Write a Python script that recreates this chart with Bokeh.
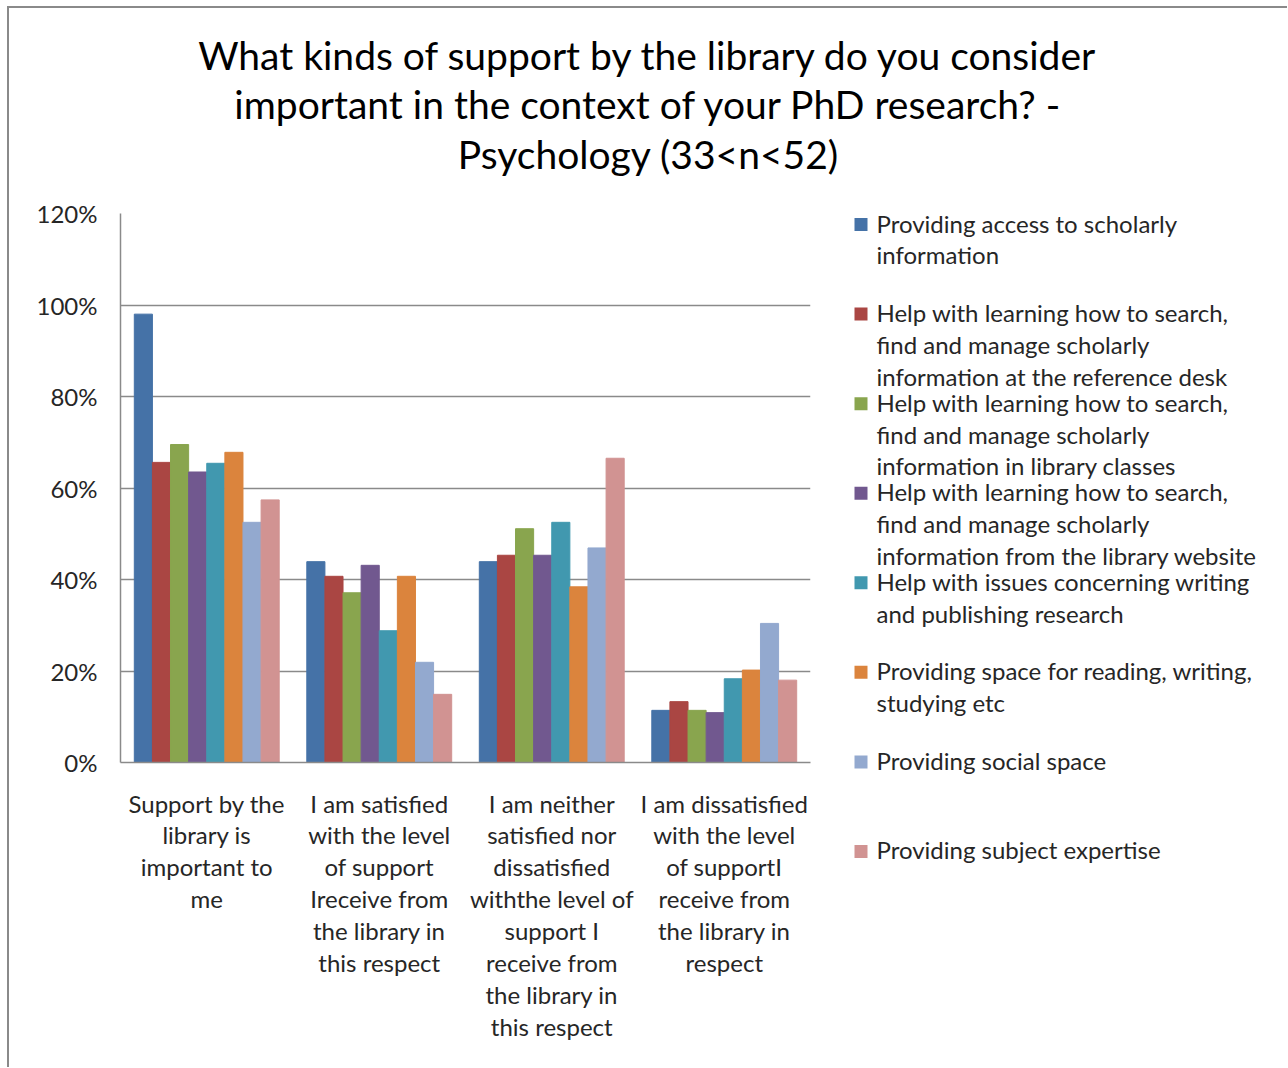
from bokeh.plotting import figure
from bokeh.models import (FactorRange, Range1d, FixedTicker, PrintfTickFormatter,
                          ColumnDataSource)
from bokeh.layouts import column, row
from bokeh.transform import dodge
from bokeh.core.properties import value
from bokeh.embed import file_html
from bokeh.resources import INLINE

# ---------------- data ----------------
categories = [
    "Support by the\nlibrary is\nimportant to\nme",
    "I am satisfied\nwith the level\nof support\nIreceive from\nthe library in\nthis respect",
    "I am neither\nsatisfied nor\ndissatisfied\nwiththe level of\nsupport I\nreceive from\nthe library in\nthis respect",
    "I am dissatisfied\nwith the level\nof supportI\nreceive from\nthe library in\nrespect",
]

series_labels = [
    "Providing access to scholarly\ninformation",
    "Help with learning how to search,\nfind and manage scholarly\ninformation at the reference  desk",
    "Help with learning how to search,\nfind and manage scholarly\ninformation in library classes",
    "Help with learning how to search,\nfind and manage scholarly\ninformation from the library website",
    "Help with issues concerning writing\nand publishing research",
    "Providing space for  reading, writing,\nstudying etc",
    "Providing social space",
    "Providing subject expertise",
]

access_info = [98.0, 43.9, 43.9, 11.4]
reference_desk = [65.6, 40.7, 45.3, 13.3]
library_classes = [69.5, 37.1, 51.1, 11.4]
library_website = [63.5, 43.1, 45.3, 10.9]
writing_publishing = [65.4, 28.8, 52.5, 18.3]
reading_space = [67.8, 40.7, 38.4, 20.2]
social_space = [52.5, 21.9, 46.9, 30.4]
subject_expertise = [57.4, 14.9, 66.5, 18.0]

series_values = [access_info, reference_desk, library_classes, library_website,
                 writing_publishing, reading_space, social_space, subject_expertise]

colors = ["#4572A7", "#AA4643", "#89A54E", "#71588F",
          "#4198AF", "#DB843D", "#93A9CF", "#D19392"]

y_ticks = [0, 20, 40, 60, 80, 100, 120]

title_text = ("What kinds of support by the library do you consider\n"
              "important in the context of your PhD research? -\n"
              "Psychology (33<n<52)")

FONT = "Lato"
TEXT_COLOR = "#262626"

W = 1278
HEAD_H = 185
BODY_H = 874
CHART_W = 841
LEG_W = W - CHART_W


def blank(width, height):
    f = figure(width=width, height=height, x_range=Range1d(0, width), y_range=Range1d(0, height),
               output_backend="svg", toolbar_location=None,
               x_axis_location=None, y_axis_location=None,
               min_border=0, min_border_left=0, min_border_right=0,
               min_border_top=0, min_border_bottom=0)
    f.frame_align = False
    f.grid.visible = False
    f.outline_line_color = None
    f.background_fill_color = "white"
    f.border_fill_color = "white"
    return f


# ---------------- title ----------------
head = blank(W, HEAD_H)
head.text(x=[639], y=[HEAD_H - 96], text=[title_text],
          text_font=value(FONT), text_font_size="39px", text_color="black",
          text_align="center", text_baseline="middle", text_line_height=1.08)

# ---------------- chart ----------------
p = figure(
    width=CHART_W, height=BODY_H,
    x_range=FactorRange(*categories, range_padding=0),
    y_range=Range1d(0, 120),
    output_backend="svg", toolbar_location=None,
    min_border_left=111, min_border_right=40,
    min_border_top=20, min_border_bottom=305,
)
p.frame_align = False
p.outline_line_color = None
p.background_fill_color = "white"
p.border_fill_color = "white"

src = {"cat": categories}
for i, vals in enumerate(series_values):
    src[f"s{i}"] = vals
source = ColumnDataSource(src)

bar_w = 0.105
for i in range(len(series_values)):
    p.vbar(x=dodge("cat", (i - 3.5) * bar_w, range=p.x_range), top=f"s{i}",
           width=bar_w, bottom=0, source=source,
           fill_color=colors[i], line_color=colors[i], line_width=1)

p.yaxis.ticker = FixedTicker(ticks=y_ticks)
p.yaxis.formatter = PrintfTickFormatter(format="%d%%")
p.yaxis.major_tick_line_color = None
p.yaxis.minor_tick_line_color = None
p.yaxis.major_tick_out = 0
p.yaxis.major_label_standoff = 23
p.yaxis.axis_line_color = "#8a8a8a"
p.yaxis.axis_line_width = 1.5
p.yaxis.major_label_text_font = FONT
p.yaxis.major_label_text_font_size = "24px"
p.yaxis.major_label_text_color = TEXT_COLOR

p.xaxis.major_tick_line_color = None
p.xaxis.major_tick_out = 0
p.xaxis.major_label_standoff = 26
p.xaxis.axis_line_color = "#8a8a8a"
p.xaxis.axis_line_width = 1.5
p.xaxis.major_label_text_font = FONT
p.xaxis.major_label_text_font_size = "24px"
p.xaxis.major_label_text_line_height = 1.1
p.xaxis.major_label_text_color = TEXT_COLOR
p.xaxis.major_label_orientation = "horizontal"

p.xgrid.grid_line_color = None
p.ygrid.grid_line_color = "#8a8a8a"
p.ygrid.grid_line_width = 1.5

# ---------------- legend ----------------
leg = blank(LEG_W, BODY_H)
step = 89.57
first = 31
ys_center = [BODY_H - (first + step * i) for i in range(len(series_labels))]
leg.scatter(x=[10.5] * len(series_labels), y=ys_center, marker="square", size=13,
            fill_color=colors, line_color=None)
leg.text(x=[26] * len(series_labels), y=[yc + 16 for yc in ys_center], text=series_labels,
         text_font=value(FONT), text_font_size="24px", text_color=TEXT_COLOR,
         text_align="left", text_baseline="top", text_line_height=1.1)

layout = column(head, row(p, leg, spacing=0), spacing=0)
layout.styles = {"border-left": "2px solid #8a8a8a", "border-top": "2px solid #8a8a8a",
                 "margin-left": "7px", "margin-top": "6px"}

open("out.html", "w").write(file_html(layout, INLINE))
